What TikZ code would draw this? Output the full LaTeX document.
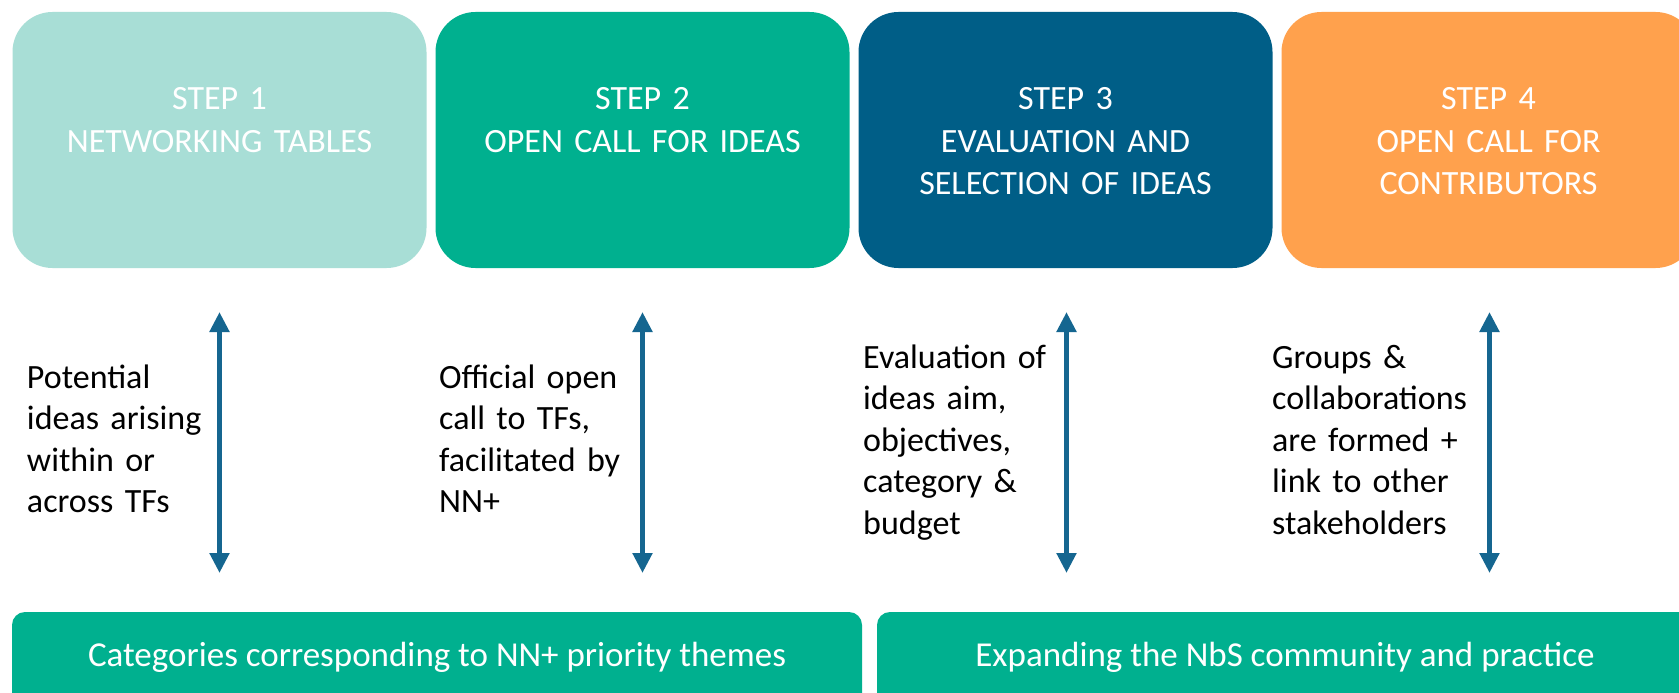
\documentclass[tikz,border=0pt]{standalone}
\usepackage{fontspec}
\setmainfont{Carlito}
\usetikzlibrary{arrows.meta}
\definecolor{lteal}{HTML}{A8DED6}
\definecolor{tealg}{HTML}{00B08F}
\definecolor{navy}{HTML}{005E87}
\definecolor{orng}{HTML}{FFA14D}
\definecolor{arrowblue}{HTML}{156690}
\begin{document}
\begin{tikzpicture}[x=1pt,y=-1pt,
  stepbox/.style={rectangle, draw=none, rounded corners=40pt, minimum width=414pt, minimum height=256pt, inner sep=0pt, outer sep=0pt},
  barbox/.style={rectangle, draw=none, fill=tealg, rounded corners=13pt, minimum height=108pt, inner sep=0pt, outer sep=0pt},
  steptitle/.style={anchor=base, text width=400pt, align=center, inner sep=0pt, text=white, font=\fontsize{34}{42.5}\selectfont},
  bodytext/.style={anchor=base west, text width=215pt, align=left, inner sep=0pt, text=black, font=\fontsize{34}{41.5}\selectfont},
  bartext/.style={anchor=base, inner sep=0pt, text=white, font=\fontsize{35}{42}\selectfont},
  conn/.style={draw=arrowblue, line width=5pt, {Triangle[width=19pt,length=20pt]}-{Triangle[width=19pt,length=20pt]}}
]
\useasboundingbox (0,0) rectangle (1679,693);
\clip (0,0) rectangle (1679,693);
\fill[white] (0,0) rectangle (1679,693);

% step boxes
\node[stepbox, fill=lteal] (box1) at (219.5,140) {};
\node[stepbox, fill=tealg] (box2) at (642.5,140) {};
\node[stepbox, fill=navy]  (box3) at (1065.5,140) {};
\node[stepbox, fill=orng]  (box4) at (1488.5,140) {};

\node[steptitle] (t1) at (219.5,110) {STEP 1\\NETWORKING TABLES};
\node[steptitle] (t2) at (642.5,110) {STEP 2\\OPEN CALL FOR IDEAS};
\node[steptitle] (t3) at (1065.5,110) {STEP 3\\EVALUATION AND\\SELECTION OF IDEAS};
\node[steptitle] (t4) at (1488.5,110) {STEP 4\\OPEN CALL FOR\\CONTRIBUTORS};

% descriptions
\node[bodytext] (d1) at (26.8,388) {Potential\\ideas arising\\within or\\across TFs};
\node[bodytext] (d2) at (439,388) {Official open\\call to TFs,\\facilitated by\\NN+};
\node[bodytext] (d3) at (863,368) {Evaluation of\\ideas aim,\\objectives,\\category \&\\budget};
\node[bodytext] (d4) at (1272,368) {Groups \&\\collaborations\\are formed +\\link to other\\stakeholders};

% arrows
\coordinate (a1t) at (219.5,312); \coordinate (a1b) at (219.5,573);
\coordinate (a2t) at (642.5,312); \coordinate (a2b) at (642.5,573);
\coordinate (a3t) at (1066.5,312); \coordinate (a3b) at (1066.5,573);
\coordinate (a4t) at (1489.5,312); \coordinate (a4b) at (1489.5,573);
\draw[conn] (a1t) -- (a1b);
\draw[conn] (a2t) -- (a2b);
\draw[conn] (a3t) -- (a3b);
\draw[conn] (a4t) -- (a4b);

% bottom bars
\node[barbox, minimum width=850pt] (bar1) at (437,666) {};
\node[barbox, minimum width=816pt] (bar2) at (1285,666) {};
\node[bartext] (bt1) at (437,666) {Categories corresponding to NN+ priority themes};
\node[bartext] (bt2) at (1285,666) {Expanding the NbS community and practice};
\end{tikzpicture}
\end{document}
